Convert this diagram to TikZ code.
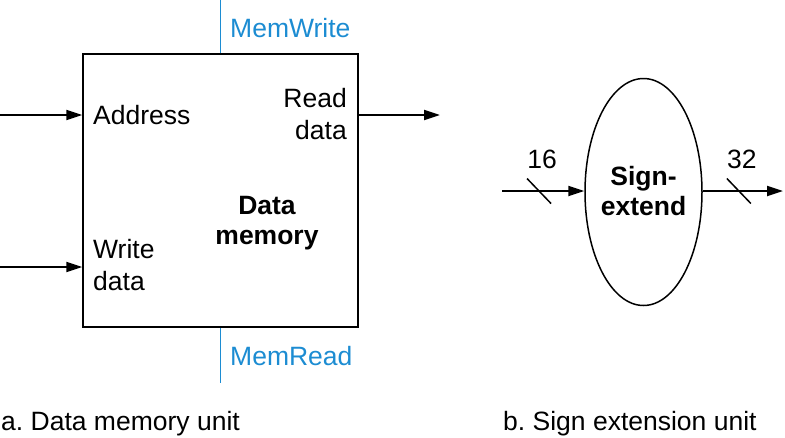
\documentclass[tikz,border=0pt]{standalone}
\usepackage{fontspec}
\setmainfont{Liberation Sans}
\usetikzlibrary{arrows.meta,shapes.geometric}
\frenchspacing
\begin{document}
\begin{tikzpicture}[x=1pt,y=-1pt]
  % Colors
  \definecolor{ctrlblue}{RGB}{28,140,210}

  % Styles
  \tikzstyle{unit}=[draw,line width=1.5pt,inner sep=0pt]
  \tikzstyle{wire}=[line width=2.2pt,-{Triangle[length=16pt,width=10pt]}]
  \tikzstyle{control}=[ctrlblue,line width=1.5pt]
  \tikzstyle{label text}=[inner sep=0pt,font=\fontsize{26.5}{32}\selectfont]
  \tikzstyle{title text}=[inner sep=0pt,font=\fontsize{26.5}{30}\selectfont\bfseries]

  \useasboundingbox (0,0) rectangle (785,437);

  % a. Data memory unit
  \node[unit,minimum width=275pt,minimum height=273pt] (mem) at (220.5,190.5) {};

  \draw[control] (mem.north) -- ++(0,-54) coordinate (mw top);
  \draw[control] (mem.south) -- ++(0,55) coordinate (mr bot);
  \node[label text,anchor=base west,text=ctrlblue] (memwrite) at (230,37) {MemWrite};
  \node[label text,anchor=base west,text=ctrlblue] (memread) at (230,365) {MemRead};

  \node[label text,anchor=base west] (address) at (93,124) {Address};
  \node[label text,anchor=base west,align=left] (write data) at (93,290) {Write\\data};
  \node[label text,anchor=base east,align=right] (read data) at (347,139) {Read\\data};
  \node[title text,anchor=base,align=center] (mem name) at (267,244) {Data\\memory};

  \coordinate (addr in) at (0,115);
  \coordinate (wd in) at (0,267);
  \coordinate (rd out) at (440,115);
  \draw[wire] (addr in) -- (addr in -| mem.west);
  \draw[wire] (wd in) -- (wd in -| mem.west);
  \draw[wire] (rd out -| mem.east) -- (rd out);

  \node[label text,anchor=base west] (cap a) at (1,430) {a. Data memory unit};

  % b. Sign extension unit
  \node[unit,ellipse,minimum width=117pt,minimum height=227pt] (sext) at (643.5,192) {};
  \node[title text,anchor=base,align=center] (sext name) at (643.5,215) {Sign-\\extend};

  \coordinate (se in) at (502,191);
  \coordinate (se out) at (783,191);
  \draw[wire] (se in) -- coordinate[pos=0.45] (cut in) (se in -| sext.west);
  \draw[wire] (se out -| sext.east) -- coordinate[pos=0.45] (cut out) (se out);

  % bus widths
  \foreach \c/\w in {cut in/16, cut out/32} {
    \draw[line width=1.5pt] (\c) ++(-12,-12.5) -- ++(24,25);
    \path (\c) ++(3,-23) node[label text,anchor=base] (bus\w) {\w};
  }

  \node[label text,anchor=base west] (cap b) at (503,430) {b. Sign extension unit};
\end{tikzpicture}
\end{document}
